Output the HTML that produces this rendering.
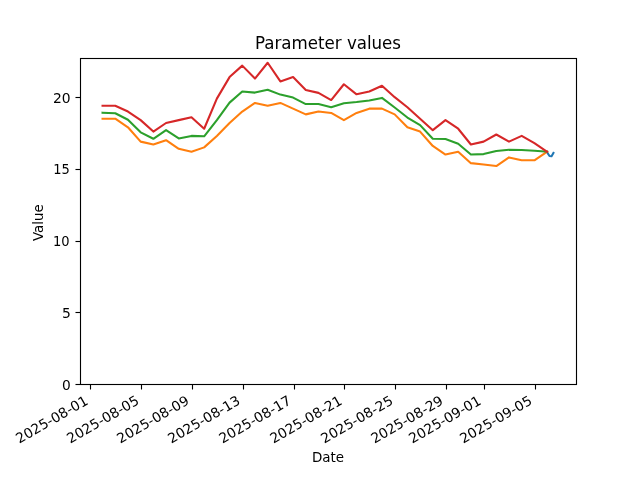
<!DOCTYPE html>
<html lang="en"><head><meta charset="utf-8"><title>Parameter values</title>
<style>html,body{margin:0;padding:0;background:#fff;overflow:hidden}svg{display:block}text{font-family:'DejaVu Sans', 'Liberation Sans', sans-serif;fill:#000}</style>
</head><body>
<svg width="640" height="480" viewBox="0 0 640 480">
<rect width="640" height="480" fill="#fff"/>
<polyline points="547.10,152.39 549.49,156.05 551.55,156.19 553.45,152.82" fill="none" stroke="#1f77b4" stroke-width="2.083" stroke-linejoin="round" stroke-linecap="square"/>
<polyline points="102.55,118.69 115.25,118.69 127.95,127.30 140.65,141.64 153.35,144.51 166.05,140.20 178.76,148.81 191.46,151.68 204.16,147.37 216.86,135.90 229.56,122.99 242.26,111.52 254.97,102.92 267.67,105.79 280.37,102.92 293.07,108.65 305.77,114.39 318.47,111.52 331.18,112.96 343.88,120.13 356.58,112.96 369.28,108.65 381.98,108.65 394.68,114.39 407.39,127.30 420.09,131.60 432.79,145.94 445.49,154.54 458.19,151.68 470.89,163.15 483.60,164.58 496.30,166.02 509.00,157.41 521.70,160.28 534.40,160.28 547.10,151.68" fill="none" stroke="#ff7f0e" stroke-width="2.083" stroke-linejoin="round" stroke-linecap="square"/>
<polyline points="102.55,112.67 115.25,113.24 127.95,119.70 140.65,132.32 153.35,138.77 166.05,130.17 178.76,138.48 191.46,135.90 204.16,136.33 216.86,120.13 229.56,102.63 242.26,91.44 254.97,92.59 267.67,89.72 280.37,94.60 293.07,97.61 305.77,104.06 318.47,104.06 331.18,107.22 343.88,103.20 356.58,102.06 369.28,100.48 381.98,97.90 394.68,107.51 407.39,117.55 420.09,125.15 432.79,138.77 445.49,139.06 458.19,143.79 470.89,154.54 483.60,154.11 496.30,150.96 509.00,149.81 521.70,149.96 534.40,150.67 547.10,151.68" fill="none" stroke="#2ca02c" stroke-width="2.083" stroke-linejoin="round" stroke-linecap="square"/>
<polyline points="102.55,105.79 115.25,105.79 127.95,111.52 140.65,120.13 153.35,131.60 166.05,122.99 178.76,120.13 191.46,117.26 204.16,128.73 216.86,98.62 229.56,77.10 242.26,65.63 254.97,78.54 267.67,62.76 280.37,81.41 293.07,77.10 305.77,90.01 318.47,92.88 331.18,100.05 343.88,84.27 356.58,94.31 369.28,91.44 381.98,85.71 394.68,97.18 407.39,107.22 420.09,118.69 432.79,130.17 445.49,120.13 458.19,128.73 470.89,144.51 483.60,141.64 496.30,134.47 509.00,141.64 521.70,135.90 534.40,143.07 547.10,151.68" fill="none" stroke="#d62728" stroke-width="2.083" stroke-linejoin="round" stroke-linecap="square"/>
<path d="M90.5 384.50V389.50M141.5 384.50V389.50M192.5 384.50V389.50M243.5 384.50V389.50M294.5 384.50V389.50M344.5 384.50V389.50M395.5 384.50V389.50M446.5 384.50V389.50M484.5 384.50V389.50M535.5 384.50V389.50M80.50 384.5H75.50M80.50 312.5H75.50M80.50 241.5H75.50M80.50 169.5H75.50M80.50 97.5H75.50" stroke="#000" stroke-width="1.111" fill="none"/>
<path d="M80 58.5H577M80 384.5H577M75.5 384.5H80M75.5 312.5H80M75.5 241.5H80M75.5 169.5H80M75.5 97.5H80" stroke="#000" stroke-opacity="0.055" stroke-width="3" fill="none"/>
<path d="M80.5 58.5H576.5M80.5 384.5H576.5M80.5 58.5V384.5M576.5 58.5V384.5" stroke="#000" stroke-width="1.111" stroke-linecap="square" fill="none"/>
<text font-size="13.889" transform="translate(19.28 443.84) rotate(-30)">2025-08-01</text>
<text font-size="13.889" transform="translate(70.33 443.72) rotate(-30)">2025-08-05</text>
<text font-size="13.889" transform="translate(120.26 443.72) rotate(-30) scale(1 0.98)">2025-08-09</text>
<text font-size="13.889" transform="translate(171.32 443.72) rotate(-30) scale(1 0.98)">2025-08-13</text>
<text font-size="13.889" transform="translate(222.38 443.72) rotate(-30)">2025-08-17</text>
<text font-size="13.889" transform="translate(273.43 443.84) rotate(-30)">2025-08-21</text>
<text font-size="13.889" transform="translate(324.24 443.72) rotate(-30) scale(1 0.98)">2025-08-25</text>
<text font-size="13.889" transform="translate(374.42 443.84) rotate(-30)">2025-08-29</text>
<text font-size="13.889" transform="translate(412.28 443.84) rotate(-30)">2025-09-01</text>
<text font-size="13.889" transform="translate(463.21 443.72) rotate(-30) scale(1 0.98)">2025-09-05</text>
<text font-size="13.472" text-anchor="middle" transform="translate(328.00 461.83) scale(1 1.08)">Date</text>
<text font-size="13.750" text-anchor="end" transform="translate(70.78 389.78) scale(1 1.06)">0</text>
<text font-size="13.889" text-anchor="end" transform="translate(70.78 317.57) scale(1 0.98)">5</text>
<text font-size="13.889" text-anchor="end" transform="translate(69.53 245.87) scale(0.94 1.04)">10</text>
<text font-size="13.889" text-anchor="end" transform="translate(69.78 173.66) scale(0.94 0.98)">15</text>
<text font-size="13.889" text-anchor="end" transform="translate(70.65 102.58) scale(1 0.98)">20</text>
<text font-size="13.333" text-anchor="middle" transform="translate(42.54 222.67) rotate(-90)">Value</text>
<text font-size="16.667" text-anchor="middle" transform="translate(328.00 48.77) scale(1 1.06)">Parameter values</text>
</svg>
</body></html>
